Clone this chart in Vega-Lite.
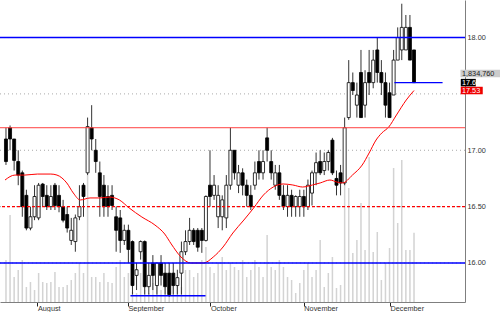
{
  "$schema": "https://vega.github.io/schema/vega-lite/v6.json",
  "width": 465,
  "height": 302,
  "autosize": {"type": "none"},
  "padding": {"left": 0, "top": 0, "right": 35, "bottom": 10},
  "background": "white",
  "config": {
    "view": {"stroke": null},
    "font": "Liberation Sans",
    "axisX": {"grid": false, "domainColor": "#7f7f7f", "tickColor": "#222222", "tickSize": 4, "labelAlign": "left", "labelDx": 2, "labelPadding": -2, "labelFontSize": 7.3, "labelColor": "#333333", "labelFlush": false, "labelOverlap": false},
    "axisY": {"grid": false, "ticks": false, "labelPadding": 2, "domainColor": "#7f7f7f", "labelFontSize": 7.3, "labelColor": "#333333", "labelOverlap": false}
  },
  "data": {"values": [
    {"i":0,"open":17.10,"high":17.20,"low":16.87,"close":16.90,"volume":1113000},
    {"i":1,"open":17.20,"high":17.22,"low":17.00,"close":17.10,"volume":2305500},
    {"i":2,"open":17.10,"high":17.10,"low":16.82,"close":16.91,"volume":662500},
    {"i":3,"open":16.90,"high":17.00,"low":16.69,"close":16.78,"volume":848000},
    {"i":4,"open":16.80,"high":16.82,"low":16.41,"close":16.50,"volume":1113000},
    {"i":5,"open":16.60,"high":16.65,"low":16.29,"close":16.31,"volume":397500},
    {"i":6,"open":16.31,"high":16.50,"low":16.29,"close":16.41,"volume":530000},
    {"i":7,"open":16.41,"high":16.69,"low":16.38,"close":16.59,"volume":318000},
    {"i":8,"open":16.40,"high":16.71,"low":16.38,"close":16.69,"volume":768500},
    {"i":9,"open":16.70,"high":16.71,"low":16.50,"close":16.59,"volume":530000},
    {"i":10,"open":16.60,"high":16.69,"low":16.47,"close":16.50,"volume":503500},
    {"i":11,"open":16.50,"high":16.69,"low":16.47,"close":16.59,"volume":530000},
    {"i":12,"open":16.69,"high":16.71,"low":16.47,"close":16.51,"volume":795000},
    {"i":13,"open":16.60,"high":16.69,"low":16.45,"close":16.50,"volume":397500},
    {"i":14,"open":16.50,"high":16.56,"low":16.36,"close":16.38,"volume":397500},
    {"i":15,"open":16.43,"high":16.50,"low":16.27,"close":16.31,"volume":450500},
    {"i":16,"open":16.20,"high":16.40,"low":16.16,"close":16.29,"volume":583000},
    {"i":17,"open":16.19,"high":16.43,"low":16.10,"close":16.40,"volume":768500},
    {"i":18,"open":16.41,"high":16.69,"low":16.38,"close":16.50,"volume":1033500},
    {"i":19,"open":16.69,"high":16.71,"low":16.41,"close":16.59,"volume":768500},
    {"i":20,"open":16.80,"high":17.29,"low":16.78,"close":17.21,"volume":3365500},
    {"i":21,"open":17.20,"high":17.40,"low":17.00,"close":17.10,"volume":662500},
    {"i":22,"open":17.00,"high":17.10,"low":16.80,"close":16.90,"volume":662500},
    {"i":23,"open":16.80,"high":16.90,"low":16.41,"close":16.59,"volume":530000},
    {"i":24,"open":16.69,"high":16.78,"low":16.41,"close":16.50,"volume":768500},
    {"i":25,"open":16.59,"high":16.69,"low":16.41,"close":16.50,"volume":530000},
    {"i":26,"open":16.60,"high":16.69,"low":16.47,"close":16.51,"volume":503500},
    {"i":27,"open":16.41,"high":16.50,"low":16.10,"close":16.29,"volume":927500},
    {"i":28,"open":16.40,"high":16.47,"low":16.09,"close":16.20,"volume":1113000},
    {"i":29,"open":16.20,"high":16.34,"low":16.16,"close":16.29,"volume":662500},
    {"i":30,"open":16.29,"high":16.34,"low":16.00,"close":16.12,"volume":768500},
    {"i":31,"open":16.19,"high":16.20,"low":15.72,"close":15.80,"volume":265000},
    {"i":32,"open":15.89,"high":16.00,"low":15.76,"close":15.94,"volume":238500},
    {"i":33,"open":16.10,"high":16.20,"low":16.03,"close":16.19,"volume":768500},
    {"i":34,"open":16.19,"high":16.20,"low":15.72,"close":15.79,"volume":318000},
    {"i":35,"open":15.79,"high":16.00,"low":15.72,"close":15.89,"volume":238500},
    {"i":36,"open":16.00,"high":16.07,"low":15.76,"close":15.89,"volume":503500},
    {"i":37,"open":15.80,"high":16.00,"low":15.72,"close":16.00,"volume":662500},
    {"i":38,"open":16.00,"high":16.07,"low":15.80,"close":15.89,"volume":318000},
    {"i":39,"open":15.91,"high":16.00,"low":15.72,"close":15.79,"volume":503500},
    {"i":40,"open":15.91,"high":16.00,"low":15.70,"close":15.72,"volume":397500},
    {"i":41,"open":15.91,"high":16.00,"low":15.72,"close":15.80,"volume":768500},
    {"i":42,"open":15.80,"high":15.94,"low":15.72,"close":15.87,"volume":503500},
    {"i":43,"open":15.91,"high":16.19,"low":15.72,"close":16.10,"volume":397500},
    {"i":44,"open":16.10,"high":16.29,"low":16.07,"close":16.19,"volume":848000},
    {"i":45,"open":16.19,"high":16.40,"low":16.16,"close":16.29,"volume":848000},
    {"i":46,"open":16.29,"high":16.31,"low":16.16,"close":16.19,"volume":662500},
    {"i":47,"open":16.29,"high":16.31,"low":16.10,"close":16.14,"volume":768500},
    {"i":48,"open":16.29,"high":16.31,"low":16.09,"close":16.20,"volume":1113000},
    {"i":49,"open":16.20,"high":16.60,"low":16.19,"close":16.59,"volume":1457500},
    {"i":50,"open":16.69,"high":17.00,"low":16.50,"close":16.59,"volume":927500},
    {"i":51,"open":16.60,"high":16.78,"low":16.56,"close":16.69,"volume":768500},
    {"i":52,"open":16.41,"high":16.69,"low":16.31,"close":16.60,"volume":1033500},
    {"i":53,"open":16.41,"high":16.60,"low":16.29,"close":16.56,"volume":1192500},
    {"i":54,"open":16.40,"high":16.78,"low":16.31,"close":16.69,"volume":848000},
    {"i":55,"open":16.69,"high":17.20,"low":16.65,"close":17.00,"volume":1033500},
    {"i":56,"open":17.00,"high":17.00,"low":16.74,"close":16.80,"volume":927500},
    {"i":57,"open":16.69,"high":16.87,"low":16.62,"close":16.80,"volume":848000},
    {"i":58,"open":16.80,"high":16.84,"low":16.60,"close":16.69,"volume":1113000},
    {"i":59,"open":16.69,"high":16.74,"low":16.50,"close":16.60,"volume":662500},
    {"i":60,"open":16.60,"high":16.69,"low":16.47,"close":16.50,"volume":848000},
    {"i":61,"open":16.69,"high":16.90,"low":16.65,"close":16.80,"volume":1113000},
    {"i":62,"open":16.90,"high":17.00,"low":16.74,"close":16.80,"volume":927500},
    {"i":63,"open":16.80,"high":17.00,"low":16.74,"close":16.90,"volume":662500},
    {"i":64,"open":17.11,"high":17.20,"low":16.90,"close":17.00,"volume":1775500},
    {"i":65,"open":16.90,"high":17.00,"low":16.74,"close":16.80,"volume":927500},
    {"i":66,"open":16.69,"high":16.87,"low":16.65,"close":16.80,"volume":848000},
    {"i":67,"open":16.80,"high":16.87,"low":16.56,"close":16.60,"volume":1113000},
    {"i":68,"open":16.60,"high":16.69,"low":16.47,"close":16.50,"volume":927500},
    {"i":69,"open":16.50,"high":16.69,"low":16.41,"close":16.60,"volume":662500},
    {"i":70,"open":16.60,"high":16.65,"low":16.41,"close":16.50,"volume":583000},
    {"i":71,"open":16.50,"high":16.60,"low":16.41,"close":16.59,"volume":238500},
    {"i":72,"open":16.50,"high":16.65,"low":16.41,"close":16.59,"volume":503500},
    {"i":73,"open":16.59,"high":16.65,"low":16.41,"close":16.50,"volume":848000},
    {"i":74,"open":16.50,"high":16.74,"low":16.47,"close":16.69,"volume":1033500},
    {"i":75,"open":16.62,"high":16.82,"low":16.51,"close":16.80,"volume":662500},
    {"i":76,"open":16.80,"high":16.98,"low":16.69,"close":16.89,"volume":848000},
    {"i":77,"open":16.90,"high":17.00,"low":16.78,"close":16.80,"volume":1643000},
    {"i":78,"open":16.82,"high":16.98,"low":16.78,"close":16.90,"volume":397500},
    {"i":79,"open":16.90,"high":17.00,"low":16.82,"close":16.98,"volume":768500},
    {"i":80,"open":17.09,"high":17.11,"low":16.78,"close":16.80,"volume":1192500},
    {"i":81,"open":16.75,"high":16.82,"low":16.60,"close":16.69,"volume":371000},
    {"i":82,"open":16.80,"high":16.87,"low":16.60,"close":16.71,"volume":450500},
    {"i":83,"open":16.71,"high":17.29,"low":16.69,"close":17.20,"volume":3153500},
    {"i":84,"open":17.29,"high":17.80,"low":17.27,"close":17.60,"volume":3021000},
    {"i":85,"open":17.60,"high":17.69,"low":17.49,"close":17.53,"volume":1298500},
    {"i":86,"open":17.40,"high":17.60,"low":17.29,"close":17.49,"volume":1643000},
    {"i":87,"open":17.69,"high":17.89,"low":17.29,"close":17.29,"volume":2623500},
    {"i":88,"open":17.40,"high":17.71,"low":17.29,"close":17.60,"volume":1378000},
    {"i":89,"open":17.69,"high":17.89,"low":17.49,"close":17.60,"volume":3842500},
    {"i":90,"open":17.60,"high":17.89,"low":17.55,"close":17.80,"volume":1325000},
    {"i":91,"open":17.89,"high":18.00,"low":17.60,"close":17.69,"volume":1855000},
    {"i":92,"open":17.69,"high":17.80,"low":17.49,"close":17.60,"volume":583000},
    {"i":93,"open":17.60,"high":17.69,"low":17.29,"close":17.40,"volume":1033500},
    {"i":94,"open":17.51,"high":17.60,"low":17.29,"close":17.29,"volume":1431000},
    {"i":95,"open":17.49,"high":17.89,"low":17.49,"close":17.80,"volume":3551000},
    {"i":96,"open":17.80,"high":18.09,"low":17.80,"close":18.00,"volume":2093500},
    {"i":97,"open":17.89,"high":18.30,"low":17.80,"close":18.09,"volume":3763000},
    {"i":98,"open":17.89,"high":18.20,"low":17.89,"close":18.09,"volume":1378000},
    {"i":99,"open":18.09,"high":18.20,"low":17.80,"close":17.80,"volume":1378000},
    {"i":100,"open":17.89,"high":17.89,"low":17.60,"close":17.60,"volume":1834760}
  ]},
  "layer": [
    {
      "mark": {"type": "rule", "color": "#d3d3d3", "strokeWidth": 1.5},
      "encoding": {
        "x": {"field": "i", "type": "quantitative", "scale": {"domain": [-0.24, 111.27], "nice": false, "zero": false},
          "axis": {"values": [7.7, 29.9, 50.1, 73, 94.1], "title": null,
            "labelExpr": "datum.value < 10 ? 'August' : datum.value < 40 ? 'September' : datum.value < 60 ? 'October' : datum.value < 80 ? 'November' : 'December'"}},
        "y": {"field": "volume", "type": "quantitative", "scale": {"domain": [0, 8003000], "nice": false}, "axis": null},
        "y2": {"datum": 0}
      }
    },
    {
      "layer": [
        {
          "data": {"values": [{"level": 16}, {"level": 16.5}, {"level": 17}, {"level": 17.5}, {"level": 18}]},
          "mark": {"type": "rule", "color": "#aaaaaa", "strokeDash": [1, 3], "strokeWidth": 1},
          "encoding": {
            "y": {"field": "level", "type": "quantitative", "scale": {"domain": [15.654, 18.333], "nice": false, "zero": false},
              "axis": {"orient": "right", "values": [16, 16.5, 17, 18], "format": ".2f", "title": null}}
          }
        },
        {
          "mark": {"type": "rule", "color": "#333333", "strokeWidth": 1},
          "encoding": {
            "x": {"field": "i", "type": "quantitative", "scale": {"domain": [-0.24, 111.27], "nice": false, "zero": false},
              "axis": {"values": [7.7, 29.9, 50.1, 73, 94.1], "title": null,
                "labelExpr": "datum.value < 10 ? 'August' : datum.value < 40 ? 'September' : datum.value < 60 ? 'October' : datum.value < 80 ? 'November' : 'December'"}},
            "y": {"field": "low", "type": "quantitative", "scale": {"domain": [15.654, 18.333], "nice": false, "zero": false},
              "axis": {"orient": "right", "values": [16, 16.5, 17, 18], "format": ".2f", "title": null}},
            "y2": {"field": "high"}
          }
        },
        {
          "mark": {"type": "bar", "size": 3, "stroke": "#000000", "strokeWidth": 0.8},
          "encoding": {
            "x": {"field": "i", "type": "quantitative", "scale": {"domain": [-0.24, 111.27], "nice": false, "zero": false},
              "axis": {"values": [7.7, 29.9, 50.1, 73, 94.1], "title": null,
                "labelExpr": "datum.value < 10 ? 'August' : datum.value < 40 ? 'September' : datum.value < 60 ? 'October' : datum.value < 80 ? 'November' : 'December'"}},
            "y": {"field": "open", "type": "quantitative", "scale": {"domain": [15.654, 18.333], "nice": false, "zero": false},
              "axis": {"orient": "right", "values": [16, 16.5, 17, 18], "format": ".2f", "title": null}},
            "y2": {"field": "close"},
            "fill": {"condition": {"test": "datum.close >= datum.open", "value": "#ffffff"}, "value": "#000000"}
          }
        },
        {
          "data": {"values": [
            {"i": -0.24, "ma": 16.736}, {"i": 2.2, "ma": 16.78}, {"i": 4.6, "ma": 16.78}, {"i": 7.7, "ma": 16.789},
            {"i": 11.0, "ma": 16.789}, {"i": 12.5, "ma": 16.78}, {"i": 14.9, "ma": 16.71}, {"i": 16.5, "ma": 16.621},
            {"i": 18.2, "ma": 16.559}, {"i": 20.6, "ma": 16.577}, {"i": 23.0, "ma": 16.577}, {"i": 25.4, "ma": 16.585},
            {"i": 27.8, "ma": 16.559}, {"i": 30.2, "ma": 16.488}, {"i": 33.3, "ma": 16.408}, {"i": 36.5, "ma": 16.337},
            {"i": 38.9, "ma": 16.257}, {"i": 40.5, "ma": 16.169}, {"i": 42.9, "ma": 16.053}, {"i": 45.3, "ma": 16.0},
            {"i": 48.4, "ma": 16.0}, {"i": 50.8, "ma": 16.053}, {"i": 53.2, "ma": 16.142}, {"i": 55.6, "ma": 16.266},
            {"i": 58.3, "ma": 16.381}, {"i": 60.7, "ma": 16.488}, {"i": 63.1, "ma": 16.603}, {"i": 65.5, "ma": 16.674},
            {"i": 67.9, "ma": 16.701}, {"i": 70.3, "ma": 16.692}, {"i": 72.7, "ma": 16.674}, {"i": 75.1, "ma": 16.692},
            {"i": 77.0, "ma": 16.71}, {"i": 79.4, "ma": 16.736}, {"i": 81.1, "ma": 16.718}, {"i": 82.5, "ma": 16.71},
            {"i": 84.9, "ma": 16.78}, {"i": 87.3, "ma": 16.869}, {"i": 89.0, "ma": 16.976}, {"i": 90.7, "ma": 17.091},
            {"i": 92.1, "ma": 17.153}, {"i": 93.8, "ma": 17.206}, {"i": 95.7, "ma": 17.313}, {"i": 98.1, "ma": 17.446},
            {"i": 100, "ma": 17.53}
          ]},
          "mark": {"type": "line", "color": "#ff0000", "strokeWidth": 1, "interpolate": "monotone"},
          "encoding": {
            "x": {"field": "i", "type": "quantitative", "scale": {"domain": [-0.24, 111.27], "nice": false, "zero": false},
              "axis": {"values": [7.7, 29.9, 50.1, 73, 94.1], "title": null,
                "labelExpr": "datum.value < 10 ? 'August' : datum.value < 40 ? 'September' : datum.value < 60 ? 'October' : datum.value < 80 ? 'November' : 'December'"}},
            "y": {"field": "ma", "type": "quantitative", "scale": {"domain": [15.654, 18.333], "nice": false, "zero": false},
              "axis": {"orient": "right", "values": [16, 16.5, 17, 18], "format": ".2f", "title": null}}
          }
        },
        {
          "data": {"values": [{"level": 17.2}]},
          "mark": {"type": "rule", "color": "#ff4040", "strokeWidth": 1},
          "encoding": {
            "y": {"field": "level", "type": "quantitative", "scale": {"domain": [15.654, 18.333], "nice": false, "zero": false},
              "axis": {"orient": "right", "values": [16, 16.5, 17, 18], "format": ".2f", "title": null}}
          }
        },
        {
          "data": {"values": [{"level": 16.5}]},
          "mark": {"type": "rule", "color": "#ff0000", "strokeWidth": 1.2, "strokeDash": [3, 2]},
          "encoding": {
            "y": {"field": "level", "type": "quantitative", "scale": {"domain": [15.654, 18.333], "nice": false, "zero": false},
              "axis": {"orient": "right", "values": [16, 16.5, 17, 18], "format": ".2f", "title": null}}
          }
        },
        {
          "data": {"values": [{"level": 18}, {"level": 16}]},
          "mark": {"type": "rule", "color": "#0000ff", "strokeWidth": 1.6},
          "encoding": {
            "y": {"field": "level", "type": "quantitative", "scale": {"domain": [15.654, 18.333], "nice": false, "zero": false},
              "axis": {"orient": "right", "values": [16, 16.5, 17, 18], "format": ".2f", "title": null}}
          }
        },
        {
          "data": {"values": [{"start": 30.5, "end": 48.9, "level": 15.71}, {"start": 95.2, "end": 107, "level": 17.6}]},
          "mark": {"type": "rule", "color": "#0000ff", "strokeWidth": 1.4},
          "encoding": {
            "x": {"field": "start", "type": "quantitative", "scale": {"domain": [-0.24, 111.27], "nice": false, "zero": false},
              "axis": {"values": [7.7, 29.9, 50.1, 73, 94.1], "title": null,
                "labelExpr": "datum.value < 10 ? 'August' : datum.value < 40 ? 'September' : datum.value < 60 ? 'October' : datum.value < 80 ? 'November' : 'December'"}},
            "x2": {"field": "end"},
            "y": {"field": "level", "type": "quantitative", "scale": {"domain": [15.654, 18.333], "nice": false, "zero": false},
              "axis": {"orient": "right", "values": [16, 16.5, 17, 18], "format": ".2f", "title": null}}
          }
        },
        {
          "data": {"values": [
            {"label": "1,834,760", "price": 17.68, "kind": "volume"},
            {"label": "17.6", "price": 17.6, "kind": "close"},
            {"label": "17.53", "price": 17.53, "kind": "average"}
          ]},
          "layer": [
            {"transform": [{"filter": "datum.kind == 'volume'"}],
             "mark": {"type": "tick", "orient": "horizontal", "size": 48, "thickness": 7.5, "color": "#cccccc", "opacity": 1},
             "encoding": {
               "x": {"datum": 117.27, "type": "quantitative"},
               "y": {"field": "price", "type": "quantitative"}}},
            {"transform": [{"filter": "datum.kind == 'close'"}],
             "mark": {"type": "tick", "orient": "horizontal", "size": 15, "thickness": 7.5, "color": "#000000", "opacity": 1},
             "encoding": {
               "x": {"datum": 113.3, "type": "quantitative"},
               "y": {"field": "price", "type": "quantitative"}}},
            {"transform": [{"filter": "datum.kind == 'average'"}],
             "mark": {"type": "tick", "orient": "horizontal", "size": 22, "thickness": 7.5, "color": "#ee0000", "opacity": 1},
             "encoding": {
               "x": {"datum": 114.15, "type": "quantitative"},
               "y": {"field": "price", "type": "quantitative"}}},
            {"mark": {"type": "text", "align": "left", "baseline": "middle", "fontSize": 7.3},
             "encoding": {
               "x": {"datum": 111.75, "type": "quantitative"},
               "y": {"field": "price", "type": "quantitative"},
               "text": {"field": "label"},
               "color": {"field": "kind", "type": "nominal", "scale": {"domain": ["volume", "close", "average"], "range": ["#222222", "#ffffff", "#ffffff"]}, "legend": null}}}
          ]
        }
      ]
    }
  ],
  "resolve": {"scale": {"y": "independent"}}
}
